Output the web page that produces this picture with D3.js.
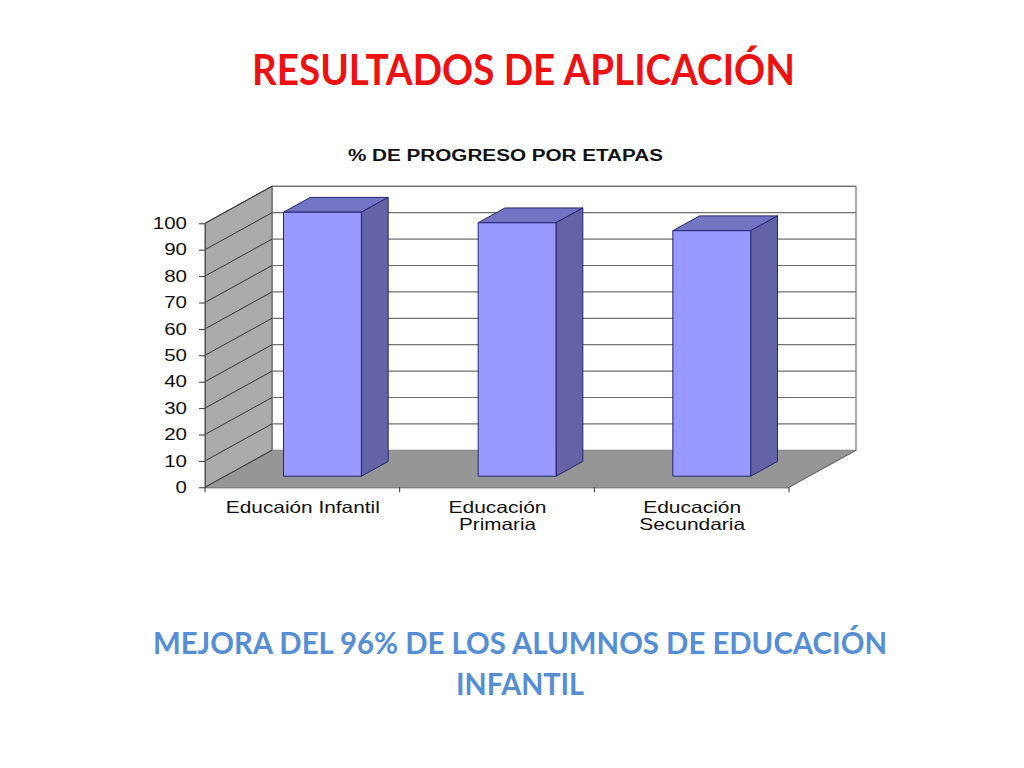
<!DOCTYPE html>
<html>
<head>
<meta charset="utf-8">
<script src="https://cdn.jsdelivr.net/npm/d3@7"></script>
<style>
  html, body { margin: 0; padding: 0; background: #fff; }
  svg { display: block; }
</style>
</head>
<body>
<div id="vis"></div>
<script>
const FRAME_WIDTH = 1024;
const FRAME_HEIGHT = 768;

const SLIDE_TITLE = "RESULTADOS DE APLICACIÓN";
const CHART_TITLE = "% DE PROGRESO POR ETAPAS";
const FOOTER_LINES = ["MEJORA DEL 96% DE LOS ALUMNOS DE EDUCACIÓN", "INFANTIL"];

const CATEGORIES = ["Educaión Infantil", "Educación Primaria", "Educación Secundaria"];
const VALUES = [100, 96, 93];
const Y_TICKS = [0, 10, 20, 30, 40, 50, 60, 70, 80, 90, 100];
const LABEL_LINES = [["Educaión Infantil"], ["Educación", "Primaria"], ["Educación", "Secundaria"]];

// plot box of the front plane, plus the fake 3d depth
const PLOT = {left: 205, right: 789, top: 223.3, bottom: 487.3};
const DEPTH = {x: 67, y: -37};
const BAR_DEPTH = {front: 0.3, back: 0.7};
const BAR_SHARE = 0.4;

const X_SCALE = d3.scaleBand()
    .domain(CATEGORIES)
    .range([PLOT.left, PLOT.right]);

const Y_SCALE = d3.scaleLinear()
    .domain([0, 100])
    .range([PLOT.bottom, PLOT.top]);

// px, py on the front plane pushed back by depth d (0 to 1)
function project(px, py, d) {
    return [px + DEPTH.x * d, py + DEPTH.y * d];
}

function poly(points) {
    return points.join(" ");
}

const FRAME = d3.select("#vis")
    .append("svg")
    .attr("width", FRAME_WIDTH)
    .attr("height", FRAME_HEIGHT)
    .attr("viewBox", "0 0 " + FRAME_WIDTH + " " + FRAME_HEIGHT);

FRAME.append("text")
    .attr("x", 523.5)
    .attr("y", 85)
    .attr("text-anchor", "middle")
    .attr("font-family", "Lato")
    .attr("font-weight", 700)
    .attr("font-size", 42)
    .attr("textLength", 543)
    .attr("lengthAdjust", "spacingAndGlyphs")
    .attr("fill", "#ee1111")
    .text(SLIDE_TITLE);

FRAME.append("text")
    .attr("x", 505.5)
    .attr("y", 161)
    .attr("text-anchor", "middle")
    .attr("font-family", "Liberation Sans")
    .attr("font-weight", 700)
    .attr("font-size", 16)
    .attr("textLength", 315)
    .attr("lengthAdjust", "spacingAndGlyphs")
    .attr("fill", "#111")
    .text(CHART_TITLE);

// walls
const y0 = Y_SCALE(0);
const y100 = Y_SCALE(100);

FRAME.append("polygon")
    .attr("points", poly([
        project(PLOT.left, y0, 1), project(PLOT.right, y0, 1),
        project(PLOT.right, y100, 1), project(PLOT.left, y100, 1)]))
    .attr("fill", "#fff")
    .attr("stroke", "#777")
    .attr("stroke-width", 1.2);

FRAME.append("polygon")
    .attr("points", poly([
        [PLOT.left, y0], project(PLOT.left, y0, 1),
        project(PLOT.left, y100, 1), [PLOT.left, y100]]))
    .attr("fill", "#ababab")
    .attr("stroke", "#666")
    .attr("stroke-width", 1.2);

FRAME.append("polygon")
    .attr("points", poly([
        [PLOT.left, y0], [PLOT.right, y0],
        project(PLOT.right, y0, 1), project(PLOT.left, y0, 1)]))
    .attr("fill", "#969696");

// gridlines run along the side wall then across the back wall
const GRID = FRAME.append("g");

GRID.selectAll(".side")
    .data(Y_TICKS.slice(1))
    .enter()
    .append("line")
        .attr("x1", PLOT.left)
        .attr("y1", d => Y_SCALE(d))
        .attr("x2", d => project(PLOT.left, Y_SCALE(d), 1)[0])
        .attr("y2", d => project(PLOT.left, Y_SCALE(d), 1)[1])
        .attr("stroke", "#333")
        .attr("stroke-width", 1);

GRID.selectAll(".back")
    .data(Y_TICKS.slice(1))
    .enter()
    .append("line")
        .attr("x1", d => project(PLOT.left, Y_SCALE(d), 1)[0])
        .attr("y1", d => project(PLOT.left, Y_SCALE(d), 1)[1])
        .attr("x2", d => project(PLOT.right, Y_SCALE(d), 1)[0])
        .attr("y2", d => project(PLOT.right, Y_SCALE(d), 1)[1])
        .attr("stroke", "#707070")
        .attr("stroke-width", 1.2);

// floor edges
FRAME.append("line")
    .attr("x1", PLOT.left).attr("y1", y0)
    .attr("x2", project(PLOT.left, y0, 1)[0]).attr("y2", project(PLOT.left, y0, 1)[1])
    .attr("stroke", "#333");

FRAME.append("line")
    .attr("x1", PLOT.right).attr("y1", y0)
    .attr("x2", project(PLOT.right, y0, 1)[0]).attr("y2", project(PLOT.right, y0, 1)[1])
    .attr("stroke", "#555");

// bars
const BAR_WIDTH = X_SCALE.bandwidth() * BAR_SHARE;
const BAR_DATA = CATEGORIES.map((c, i) => ({
    x0: X_SCALE(c) + (X_SCALE.bandwidth() - BAR_WIDTH) / 2,
    x1: X_SCALE(c) + (X_SCALE.bandwidth() + BAR_WIDTH) / 2,
    top: Y_SCALE(VALUES[i])
}));

const BARS = FRAME.selectAll(".bar")
    .data(BAR_DATA)
    .enter()
    .append("g")
        .attr("class", "bar")
        .attr("stroke", "#25256e")
        .attr("stroke-width", 1)
        .attr("stroke-linejoin", "round");

BARS.append("polygon")
    .attr("fill", "#7474c4")
    .attr("points", d => poly([
        project(d.x0, d.top, BAR_DEPTH.front), project(d.x1, d.top, BAR_DEPTH.front),
        project(d.x1, d.top, BAR_DEPTH.back), project(d.x0, d.top, BAR_DEPTH.back)]));

BARS.append("polygon")
    .attr("fill", "#6363a6")
    .attr("points", d => poly([
        project(d.x1, y0, BAR_DEPTH.front), project(d.x1, y0, BAR_DEPTH.back),
        project(d.x1, d.top, BAR_DEPTH.back), project(d.x1, d.top, BAR_DEPTH.front)]));

BARS.append("polygon")
    .attr("fill", "#9999ff")
    .attr("points", d => poly([
        project(d.x0, y0, BAR_DEPTH.front), project(d.x1, y0, BAR_DEPTH.front),
        project(d.x1, d.top, BAR_DEPTH.front), project(d.x0, d.top, BAR_DEPTH.front)]));

// axes
const Y_AXIS = FRAME.append("g")
    .attr("transform", "translate(" + PLOT.left + ",0)")
    .call(d3.axisLeft(Y_SCALE).tickValues(Y_TICKS).tickSize(6).tickPadding(12).tickSizeOuter(0));

Y_AXIS.selectAll("line").attr("stroke", "#333");
Y_AXIS.select(".domain").attr("stroke", "#555");
Y_AXIS.selectAll("text")
    .attr("font-family", "Liberation Sans")
    .attr("font-size", 16.5)
    .attr("fill", "#111")
    .each(function() {
        d3.select(this).attr("textLength", this.textContent.length * 11.4)
            .attr("lengthAdjust", "spacingAndGlyphs");
    });

const X_AXIS = FRAME.append("g")
    .attr("transform", "translate(0," + PLOT.bottom + ")")
    .call(d3.axisBottom(X_SCALE).tickSize(0).tickPadding(0));

X_AXIS.select(".domain").attr("stroke", "#555");
X_AXIS.selectAll("text").remove();

// ticks sit between the categories, not under them
FRAME.selectAll(".xtick")
    .data(d3.range(CATEGORIES.length + 1))
    .enter()
    .append("line")
        .attr("x1", d => PLOT.left + d * X_SCALE.bandwidth())
        .attr("x2", d => PLOT.left + d * X_SCALE.bandwidth())
        .attr("y1", PLOT.bottom)
        .attr("y2", PLOT.bottom + 5)
        .attr("stroke", "#333");

const X_LABEL_WIDTHS = [[154], [98, 77], [98, 106]];

FRAME.selectAll(".xlabel")
    .data(CATEGORIES)
    .enter()
    .append("text")
        .attr("class", "xlabel")
        .attr("text-anchor", "middle")
        .attr("font-family", "Liberation Sans")
        .attr("font-size", 16.5)
        .attr("fill", "#111")
        .each(function(c, i) {
            d3.select(this).selectAll("tspan")
                .data(LABEL_LINES[i])
                .enter()
                .append("tspan")
                    .attr("x", X_SCALE(c) + X_SCALE.bandwidth() / 2 + 0.5)
                    .attr("y", (d, j) => 512.5 + j * 17)
                    .attr("textLength", (d, j) => X_LABEL_WIDTHS[i][j])
                    .attr("lengthAdjust", "spacingAndGlyphs")
                    .text(d => d);
        });

FRAME.selectAll(".footer")
    .data(FOOTER_LINES)
    .enter()
    .append("text")
        .attr("class", "footer")
        .attr("x", 520)
        .attr("y", (d, i) => 654 + i * 40.5)
        .attr("text-anchor", "middle")
        .attr("font-family", "Lato")
        .attr("font-weight", 700)
        .attr("font-size", 31)
        .attr("textLength", (d, i) => [734, 128][i])
        .attr("lengthAdjust", "spacingAndGlyphs")
        .attr("fill", "#558ed5")
        .text(d => d);
</script>
</body>
</html>
